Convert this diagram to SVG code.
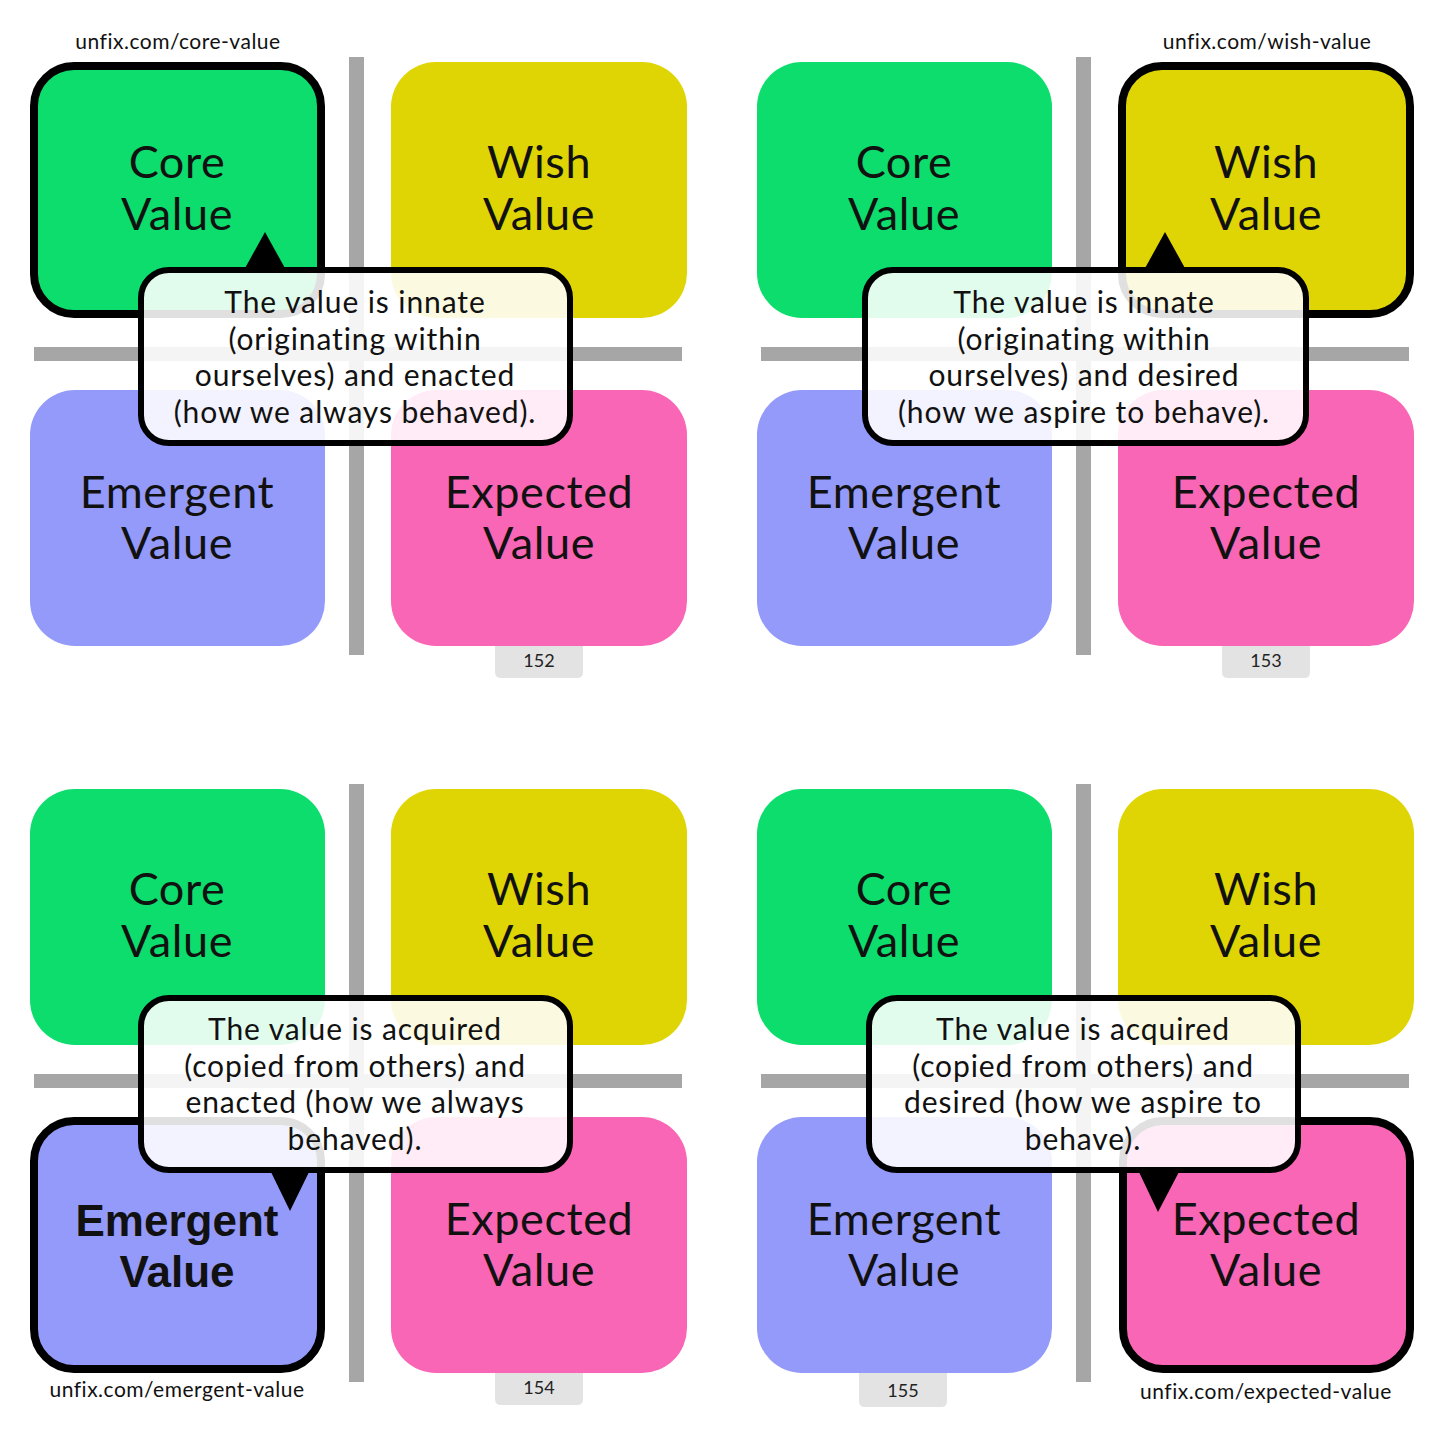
<svg xmlns="http://www.w3.org/2000/svg" width="1445" height="1445" viewBox="0 0 1445 1445">
<style>
.bg{fill:#ffffff}
.bar{fill:#a6a6a6}
.green{fill:#0cdd6c}
.yellow{fill:#dfd505}
.blue{fill:#949af9}
.pink{fill:#f966b5}
.hl{stroke:#000;stroke-width:8}
.lbl{font-family:Lato,"Open Sans","DejaVu Sans",sans-serif;font-size:45px;letter-spacing:0.6px;fill:#111;text-anchor:middle}
.lblb{font-family:"Liberation Sans",Arial,sans-serif;font-weight:bold;font-size:44px;fill:#111;text-anchor:middle}
.call{fill:#fff;fill-opacity:0.88;stroke:#000;stroke-width:6}
.ct{font-family:Lato,"Open Sans","DejaVu Sans",sans-serif;font-size:30px;letter-spacing:0.9px;fill:#111;text-anchor:middle}
.url{font-family:Lato,"Open Sans","DejaVu Sans",sans-serif;font-size:21px;letter-spacing:0.5px;fill:#111;text-anchor:middle}
.tab{fill:#e3e3e3}
.num{font-family:Lato,"Open Sans","DejaVu Sans",sans-serif;font-size:18px;fill:#222;text-anchor:middle}
.ptr{fill:#000}
</style>
<rect class="bg" x="0" y="0" width="1445" height="1445"/>

<!-- Panel 152: core value -->
<g id="panel-core" transform="translate(0,0)">
  <rect class="bar" x="349" y="57" width="15" height="598"/>
  <rect class="bar" x="34" y="347" width="648" height="14"/>
  <g id="p1-core"><rect class="green hl" x="34" y="66" width="287" height="248" rx="40"/><text class="lbl" x="177" y="178">Core</text><text class="lbl" x="177" y="230">Value</text></g>
  <g id="p1-wish"><rect class="yellow" x="391" y="62" width="296" height="256" rx="45"/><text class="lbl" x="539" y="178">Wish</text><text class="lbl" x="539" y="230">Value</text></g>
  <g id="p1-emergent"><rect class="blue" x="30" y="390" width="295" height="256" rx="45"/><text class="lbl" x="177" y="508">Emergent</text><text class="lbl" x="177" y="559">Value</text></g>
  <g id="p1-expected"><rect class="pink" x="391" y="390" width="296" height="256" rx="45"/><text class="lbl" x="539" y="508">Expected</text><text class="lbl" x="539" y="559">Value</text></g>
  <g id="p1-tab"><path class="tab" d="M495 646 H583 V672 Q583 678 577 678 H501 Q495 678 495 672 Z"/><text class="num" x="539" y="667">152</text></g>
  <text id="p1-url" class="url" x="178" y="49">unfix.com/core-value</text>
  <g id="p1-callout">
    <rect class="call" x="141" y="270" width="429" height="173" rx="28"/>
    <text class="ct" x="355" y="313">The value is innate</text>
    <text class="ct" x="355" y="350">(originating within</text>
    <text class="ct" x="355" y="386">ourselves) and enacted</text>
    <text class="ct" x="355" y="423">(how we always behaved).</text>
  </g>
</g>

<!-- Panel 153: wish value -->
<g id="panel-wish" transform="translate(727,0)">
  <rect class="bar" x="349" y="57" width="15" height="598"/>
  <rect class="bar" x="34" y="347" width="648" height="14"/>
  <g id="p2-core"><rect class="green" x="30" y="62" width="295" height="256" rx="45"/><text class="lbl" x="177" y="178">Core</text><text class="lbl" x="177" y="230">Value</text></g>
  <g id="p2-wish"><rect class="yellow hl" x="395" y="66" width="288" height="248" rx="40"/><text class="lbl" x="539" y="178">Wish</text><text class="lbl" x="539" y="230">Value</text></g>
  <g id="p2-emergent"><rect class="blue" x="30" y="390" width="295" height="256" rx="45"/><text class="lbl" x="177" y="508">Emergent</text><text class="lbl" x="177" y="559">Value</text></g>
  <g id="p2-expected"><rect class="pink" x="391" y="390" width="296" height="256" rx="45"/><text class="lbl" x="539" y="508">Expected</text><text class="lbl" x="539" y="559">Value</text></g>
  <g id="p2-tab"><path class="tab" d="M495 646 H583 V672 Q583 678 577 678 H501 Q495 678 495 672 Z"/><text class="num" x="539" y="667">153</text></g>
  <text id="p2-url" class="url" x="540" y="49">unfix.com/wish-value</text>
  <g id="p2-callout">
    <rect class="call" x="138" y="270" width="441" height="173" rx="28"/>
    <text class="ct" x="357" y="313">The value is innate</text>
    <text class="ct" x="357" y="350">(originating within</text>
    <text class="ct" x="357" y="386">ourselves) and desired</text>
    <text class="ct" x="357" y="423">(how we aspire to behave).</text>
  </g>
</g>

<!-- Panel 154: emergent value -->
<g id="panel-emergent" transform="translate(0,727)">
  <rect class="bar" x="349" y="57" width="15" height="598"/>
  <rect class="bar" x="34" y="347" width="648" height="14"/>
  <g id="p3-core"><rect class="green" x="30" y="62" width="295" height="256" rx="45"/><text class="lbl" x="177" y="178">Core</text><text class="lbl" x="177" y="230">Value</text></g>
  <g id="p3-wish"><rect class="yellow" x="391" y="62" width="296" height="256" rx="45"/><text class="lbl" x="539" y="178">Wish</text><text class="lbl" x="539" y="230">Value</text></g>
  <g id="p3-emergent"><rect class="blue hl" x="34" y="394" width="287" height="248" rx="40"/><text class="lblb" x="177" y="509">Emergent</text><text class="lblb" x="177" y="560">Value</text></g>
  <g id="p3-expected"><rect class="pink" x="391" y="390" width="296" height="256" rx="45"/><text class="lbl" x="539" y="508">Expected</text><text class="lbl" x="539" y="559">Value</text></g>
  <g id="p3-tab"><path class="tab" d="M495 646 H583 V672 Q583 678 577 678 H501 Q495 678 495 672 Z"/><text class="num" x="539" y="667">154</text></g>
  <text id="p3-url" class="url" x="177" y="670">unfix.com/emergent-value</text>
  <g id="p3-callout">
    <rect class="call" x="141" y="271" width="429" height="172" rx="28"/>
    <text class="ct" x="355" y="313">The value is acquired</text>
    <text class="ct" x="355" y="350">(copied from others) and</text>
    <text class="ct" x="355" y="386">enacted (how we always</text>
    <text class="ct" x="355" y="423">behaved).</text>
  </g>
</g>

<!-- Panel 155: expected value -->
<g id="panel-expected" transform="translate(727,727)">
  <rect class="bar" x="349" y="57" width="15" height="598"/>
  <rect class="bar" x="34" y="347" width="648" height="14"/>
  <g id="p4-core"><rect class="green" x="30" y="62" width="295" height="256" rx="45"/><text class="lbl" x="177" y="178">Core</text><text class="lbl" x="177" y="230">Value</text></g>
  <g id="p4-wish"><rect class="yellow" x="391" y="62" width="296" height="256" rx="45"/><text class="lbl" x="539" y="178">Wish</text><text class="lbl" x="539" y="230">Value</text></g>
  <g id="p4-emergent"><rect class="blue" x="30" y="390" width="295" height="256" rx="45"/><text class="lbl" x="177" y="508">Emergent</text><text class="lbl" x="177" y="559">Value</text></g>
  <g id="p4-expected"><rect class="pink hl" x="396" y="394" width="287" height="248" rx="40"/><text class="lbl" x="539" y="508">Expected</text><text class="lbl" x="539" y="559">Value</text></g>
  <g id="p4-tab"><path class="tab" d="M132 646 H220 V674 Q220 680 214 680 H138 Q132 680 132 674 Z"/><text class="num" x="176" y="670">155</text></g>
  <text id="p4-url" class="url" x="539" y="672">unfix.com/expected-value</text>
  <g id="p4-callout">
    <rect class="call" x="142" y="271" width="429" height="172" rx="28"/>
    <text class="ct" x="356" y="313">The value is acquired</text>
    <text class="ct" x="356" y="350">(copied from others) and</text>
    <text class="ct" x="356" y="386">desired (how we aspire to</text>
    <text class="ct" x="356" y="423">behave).</text>
  </g>
</g>

<!-- callout pointers -->
<g id="connectors">
  <polygon class="ptr" points="265,232 286,270 244,270"/>
  <polygon class="ptr" points="1165,232 1186,270 1144,270"/>
  <polygon class="ptr" points="270,1170 310,1170 290,1211"/>
  <polygon class="ptr" points="1138,1170 1180,1170 1158,1212"/>
</g>
</svg>
